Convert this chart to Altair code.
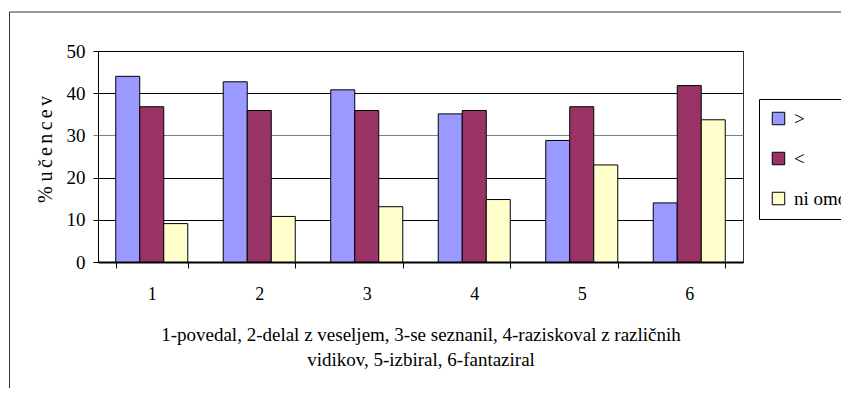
import altair as alt
import pandas as pd

categories = ["1", "2", "3", "4", "5", "6"]
series = [">", "<", "ni omog."]
vals_gt = [44.0, 42.7, 40.8, 35.1, 28.8, 14.0]
vals_lt = [36.8, 35.9, 35.9, 35.9, 36.8, 41.8]
vals_ni = [9.1, 10.8, 13.1, 14.8, 23.0, 33.7]
colors = ["#9999FF", "#993366", "#FFFFCC"]
y_ticks = [0, 10, 20, 30, 40, 50]
x_title = ["1-povedal, 2-delal z veseljem, 3-se seznanil, 4-raziskoval z različnih",
           "vidikov, 5-izbiral, 6-fantaziral"]
y_title = "% u\u2006č\u2006e\u2006n\u2006c\u2006e\u2006v"

rows = []
for s, vals in zip(series, [vals_gt, vals_lt, vals_ni]):
    for c, v in zip(categories, vals):
        rows.append({"cat": c, "ser": s, "val": v})
df = pd.DataFrame(rows)

FONT = "Times New Roman, Liberation Serif, serif"
W, H = 645, 211
PAD = {"left": 90, "top": 43, "right": 98, "bottom": 126}

grid_color = {"condition": {"test": "datum.value === 30", "value": "#808080"}, "value": "black"}

bars = alt.Chart(df).mark_bar(stroke="black", strokeWidth=1).encode(
    x=alt.X("cat:N",
            scale=alt.Scale(domain=categories, paddingInner=0.33, paddingOuter=0.165),
            axis=alt.Axis(title=x_title, labelAngle=0, tickBand="extent", tickSize=6,
                          tickColor="black", domainColor="black", domainWidth=2,
                          labelPadding=17, titlePadding=22, titleLineHeight=25,
                          labelFont=FONT, titleFont=FONT,
                          labelFontSize=18, titleFontSize=19)),
    xOffset=alt.XOffset("ser:N", scale=alt.Scale(domain=series, paddingInner=0, paddingOuter=0)),
    y=alt.Y("val:Q",
            scale=alt.Scale(domain=[0, 50], nice=False),
            axis=alt.Axis(title=y_title, values=y_ticks, grid=True, gridColor=grid_color,
                          tickColor=grid_color, tickSize=5, domainColor="black",
                          labelFont=FONT, titleFont=FONT,
                          labelPadding=8, labelFontSize=19, titleFontSize=20,
                          titleX=-53, titleY=98, titleAlign="center", titleBaseline="middle")),
    color=alt.Color("ser:N",
                    scale=alt.Scale(domain=series, range=colors),
                    legend=alt.Legend(title=None, orient="none", legendX=661, legendY=48,
                                      symbolType="square", symbolSize=156,
                                      symbolStrokeColor="black", symbolStrokeWidth=1,
                                      labelFont=FONT, labelFontSize=19, labelColor="black",
                                      rowPadding=20, padding=10, labelOffset=6,
                                      strokeColor="black", fillColor="white")),
)

frame_df = pd.DataFrame({"k": [0]})
top_rule = alt.Chart(frame_df).mark_rule(color="#333", strokeWidth=1).encode(
    x=alt.value(-88.5), x2=alt.value(W + PAD["right"]), y=alt.value(-39))
left_rule = alt.Chart(frame_df).mark_rule(color="#333", strokeWidth=1).encode(
    x=alt.value(-88.5), y=alt.value(-39), y2=alt.value(H + PAD["bottom"]))

chart = alt.layer(bars, top_rule, left_rule).properties(
    width=W, height=H,
    autosize=alt.AutoSizeParams(type="none"),
    padding=PAD,
    background="white",
).configure(font=FONT).configure_view(stroke="#333", strokeWidth=1).configure_axis(
    labelFont=FONT, titleFont=FONT, labelColor="black", titleColor="black",
    titleFontWeight="normal", grid=False,
).configure_legend(labelFont=FONT)

chart.save("out.html", embed_options={"renderer": "svg", "actions": False})
